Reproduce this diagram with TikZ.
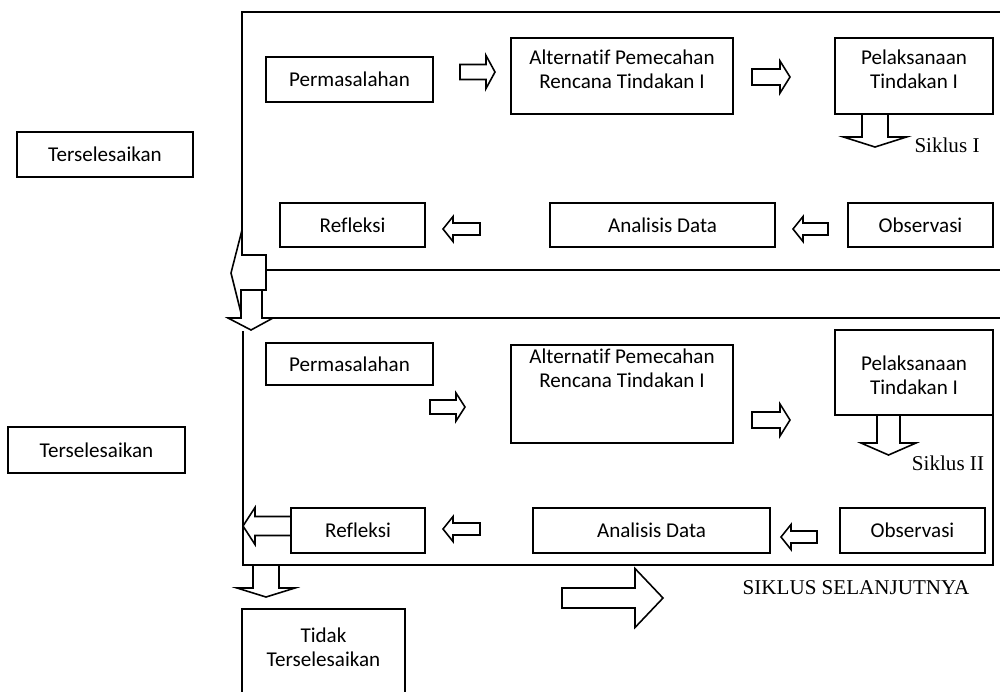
\documentclass[tikz,border=0pt]{standalone}
\usepackage{fontspec}
\setmainfont{Carlito}[Ligatures=NoCommon]
\newfontfamily\timesfont{Liberation Serif}
\usetikzlibrary{calc}

\tikzset{
  box/.style 2 args={draw, line width=0.9pt, inner sep=0pt, align=center,
    minimum width=#1*0.02cm, minimum height=#2*0.02cm, font=\fontsize{12}{13.5}\selectfont},
  txt/.style={align=center, font=\fontsize{12}{13.5}\selectfont},
  cyclelabel/.style={font=\timesfont\fontsize{12}{14}\selectfont},
  frameline/.style={line width=0.9pt},
  pics/blockarrow/.style n args={4}{code={
    \draw[line width=0.9pt, fill=white] (0,-#2) -- ({#1-#4},-#2) -- ({#1-#4},-#3)
      -- (#1,0) -- ({#1-#4},#3) -- ({#1-#4},#2) -- (0,#2) -- cycle;
  }}
}

\begin{document}
\begin{tikzpicture}[x=0.02cm, y=-0.02cm]
  \useasboundingbox (0,0) rectangle (1000,691);

  % frames of the two cycles
  \draw[frameline] (1000,12) -- (242,12) -- (242,255);
  \draw[frameline] (266,270) -- (1000,270);
  \draw[frameline] (267,318) -- (1000,318);
  \draw[frameline] (243,331) -- (243,565) -- (993,565) -- (993,415);

  % side boxes
  \node[box={176}{45}] (done1) at (105,154.5) {Terselesaikan};
  \node[box={177}{46}] (done2) at (96.5,450) {Terselesaikan};

  % cycle I
  \node[box={167}{45}] (perm1) at (349.5,79.5) {Permasalahan};
  \node[box={222}{76}] (alt1) at (622,76) {};
  \node[txt] at (622,69) {Alternatif Pemecahan\\Rencana Tindakan I};
  \node[box={158}{76}] (pel1) at (914,76) {};
  \node[txt] at (914,69) {Pelaksanaan\\Tindakan I};
  \node[box={145}{44}] (refl1) at (352.5,225) {Refleksi};
  \node[box={225}{44}] (anal1) at (662.5,225) {Analisis Data};
  \node[box={145}{44}] (obs1) at (920.5,225) {Observasi};
  \node[cyclelabel] (sik1) at (947,145) {Siklus I};

  % cycle II
  \node[box={167}{42}] (perm2) at (349.5,364) {Permasalahan};
  \node[box={222}{98}] (alt2) at (622,394) {};
  \node[txt] at (622,368) {Alternatif Pemecahan\\Rencana Tindakan I};
  \node[box={158}{85}] (pel2) at (914,372.5) {};
  \node[txt] at (914,375) {Pelaksanaan\\Tindakan I};
  \node[box={134}{45}] (refl2) at (358,530.5) {Refleksi};
  \node[box={237}{45}] (anal2) at (651.5,530.5) {Analisis Data};
  \node[box={145}{45}] (obs2) at (912.5,530.5) {Observasi};
  \node[cyclelabel] (sik2) at (948,463) {Siklus II};

  % exit
  \node[box={163}{96}, anchor=north] (notdone) at (323.5,608) {};
  \node[txt] at (323.5,647) {Tidak\\Terselesaikan};
  \node[cyclelabel] (next) at (856,588) {SIKLUS SELANJUTNYA};

  % block arrows, cycle I
  \pic at (460,72) {blockarrow={35}{7.5}{16.5}{9}};
  \pic at (752,77) {blockarrow={38}{8}{16}{10}};
  \pic[rotate=-90] at (875,114) {blockarrow={33}{13}{31.5}{10}};
  \pic[rotate=180] at (828,229) {blockarrow={35}{6}{12.5}{10}};
  \pic[rotate=180] at (480,229) {blockarrow={37}{6}{12.5}{10}};

  % turn from cycle I to cycle II
  \draw[line width=0.9pt, fill=white] (266,255) -- (242,255) -- (242,230) -- (231,273)
    -- (242,317) -- (242,290) -- (266,290) -- cycle;
  \draw[line width=0.9pt, fill=white] (241,290) -- (262,290) -- (262,318) -- (273,318)
    -- (251,330) -- (228,318) -- (241,318) -- cycle;

  % block arrows, cycle II
  \pic at (430,407) {blockarrow={35}{7}{14}{9}};
  \pic at (752,420) {blockarrow={38}{8}{16}{10}};
  \pic[rotate=-90] at (888.5,415) {blockarrow={40}{11.5}{27.5}{12}};
  \pic[rotate=180] at (817,537) {blockarrow={36}{6}{12.5}{10}};
  \pic[rotate=180] at (480,529) {blockarrow={37}{6}{12.5}{10}};
  \pic[rotate=180] at (291,526) {blockarrow={48}{9.5}{18.5}{12}};
  \pic[rotate=-90] at (266,565) {blockarrow={32}{13}{29}{9}};
  \pic at (562,598) {blockarrow={101}{10}{29.5}{28}};
\end{tikzpicture}
\end{document}
